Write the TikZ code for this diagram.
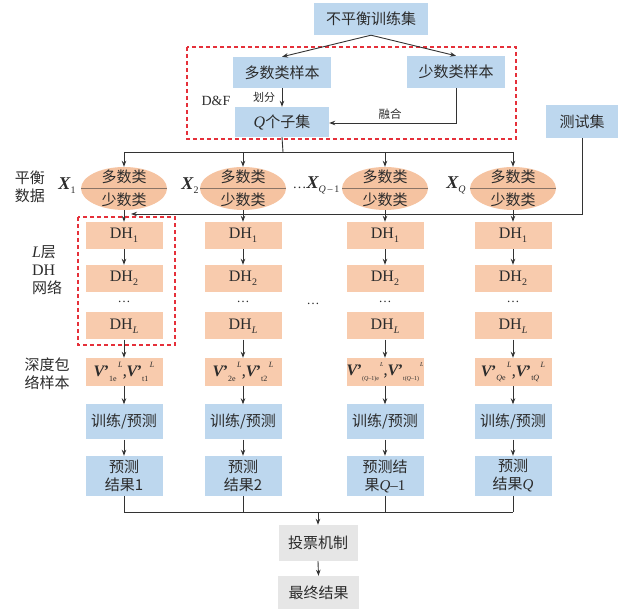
\documentclass[tikz,border=0pt]{standalone}
\usepackage{fontspec}
\setmainfont{Liberation Serif}
\newfontfamily\cjk{Noto Sans CJK SC}
\usetikzlibrary{shapes.geometric,arrows.meta,calc}

\definecolor{boxblue}{HTML}{BDD7EE}
\definecolor{boxorange}{HTML}{F8CBAD}
\definecolor{ellorange}{HTML}{F5C3A1}
\definecolor{boxgray}{HTML}{E6E6E6}
\definecolor{dashred}{HTML}{E5303A}
\definecolor{ink}{HTML}{2B2B2B}
\definecolor{wire}{HTML}{333333}
\definecolor{divline}{HTML}{8A7466}

% vector symbols and layer names
\newcommand{\Xv}[1]{{\rmfamily\fontsize{18}{18}\selectfont\bfseries\itshape X}\raisebox{-0.5ex}{\rmfamily\fontsize{10}{10}\selectfont #1}}
\newcommand{\dhl}[1]{{\rmfamily\fontsize{16}{16}\selectfont DH\raisebox{-0.55ex}{\fontsize{10}{10}\selectfont #1}}}
\newcommand{\Vp}[3]{{\rmfamily\fontsize{16}{16}\selectfont\bfseries\itshape V\kern-0.5pt\upshape'}\raisebox{-0.6ex}{\rmfamily\fontsize{#3}{#3}\selectfont #1}\raisebox{1.1ex}{\rmfamily\fontsize{#3}{#3}\selectfont\itshape\,#2}}

\tikzset{
  base/.style={inner sep=0pt, text=ink, align=center, font=\cjk\fontsize{15}{18}\selectfont},
  bluebox/.style={base, fill=boxblue},
  orangebox/.style={base, fill=boxorange, minimum width=77pt, minimum height=27pt},
  graybox/.style={base, fill=boxgray},
  ell/.style={ellipse, fill=ellorange, minimum width=86pt, minimum height=43pt, inner sep=0pt},
  wireline/.style={draw=wire, line width=0.9pt},
  arr/.style={wireline, -{Stealth[length=6pt,width=4.5pt]}},
  reddash/.style={draw=dashred, line width=1.3pt, dash pattern=on 4pt off 3pt},
  lbl/.style={base, align=left},
}

\begin{document}
\begin{tikzpicture}[x=1pt,y=-1pt]
\useasboundingbox (0,0) rectangle (625,609);

% ---- top: splitting the imbalanced training set ----
\node[bluebox, minimum width=114pt, minimum height=32pt] (train) at (371,19) {不平衡训练集};
\draw[reddash] (187,47) rectangle (516,139);
\node[bluebox, minimum width=98pt, minimum height=31pt] (major) at (282,72.5) {多数类样本};
\node[bluebox, minimum width=98pt, minimum height=32pt] (minor) at (456,72) {少数类样本};
\node[bluebox, minimum width=94pt, minimum height=30pt] (sub) at (282,122) {{\rmfamily\itshape\fontsize{16}{16}\selectfont Q}个子集};
\node[bluebox, minimum width=72pt, minimum height=33pt] (test) at (582,121.5) {测试集};

\node[base, font=\rmfamily\fontsize{14}{14}\selectfont] (df) at (216,101) {D\&F};
\node[base, font=\cjk\fontsize{11}{12}\selectfont] (split) at (264,97) {划分};
\node[base, font=\cjk\fontsize{11.5}{12}\selectfont] (fuse) at (390,114) {融合};

\draw[arr] (train.south) -- (major.north);
\draw[arr] (train.south) -- (minor.north);
\draw[arr] (major.south) -- (sub.north);
\draw[arr] (minor.south) |- (sub.east |- 0,123);

% ---- balanced subsets ----
\node[lbl] (baldata) at (30,187) {平衡\\数据};
\node[base] (x1) at (67,186) {\Xv{1}};
\node[base] (x2) at (190,186) {\Xv{2}};
\node[base] (xq1) at (316,185) {{\rmfamily\fontsize{14}{14}\selectfont…}\Xv{\textit{Q}\,–\,1}};
\node[base] (xq) at (456,185) {\Xv{\textit{Q}}};

\coordinate (bus) at (283,152);
\coordinate (bus2) at (318,512);
\coordinate (tin) at (131,214);

\foreach \c/\x/\vtext/\rtext in {
  1/124/{\Vp{1e}{L}{8},\Vp{t1}{L}{8}}/{预测\\结果1},
  2/243/{\Vp{2e}{L}{8},\Vp{t2}{L}{8}}/{预测\\结果2},
  3/385/{\Vp{(\textit{Q}–1)e}{L}{6},\Vp{t(\textit{Q}–1)}{L}{6}}/{预测结\\果{\rmfamily\itshape Q}{\rmfamily –1}},
  4/513/{\Vp{\textit{Q}e}{L}{8},\Vp{t\textit{Q}}{L}{8}}/{预测\\结果{\rmfamily\itshape Q}}}{
  \node[ell] (e\c) at (\x,188.5) {};
  \draw[draw=divline, line width=0.8pt] (e\c.west) -- (e\c.east);
  \node[base] (e\c-maj) at (\x,177) {多数类};
  \node[base] (e\c-min) at (\x,199.5) {少数类};
  \node[orangebox] (d1\c) at (\x,235.5) {\dhl{1}};
  \node[orangebox] (d2\c) at (\x,278.5) {\dhl{2}};
  \node[base, font=\rmfamily\fontsize{13}{13}\selectfont] (dots\c) at (\x,302) {…};
  \node[orangebox] (dL\c) at (\x,326) {\dhl{\textit{L}}};
  \node[orangebox, minimum height=28pt] (v\c) at (\x,372) {\vtext};
  \node[bluebox, minimum width=77pt, minimum height=35pt] (tp\c) at (\x,422) {训练/预测};
  \node[bluebox, minimum width=77pt, minimum height=40pt] (r\c) at (\x,476) {\rtext};
  \draw[arr] (e\c.north |- bus) -- (e\c.north);
  \draw[arr] (e\c.south) -- (d1\c.north);
  \draw[arr] (d1\c.south) -- (d2\c.north);
  \draw[arr] (dL\c.south) -- (v\c.north);
  \draw[arr] (v\c.south) -- (tp\c.north);
  \draw[arr] (tp\c.south) -- (r\c.north);
  \draw[wireline] (r\c.south) -- (r\c.south |- bus2);
}

\draw[wireline] (sub.south) -- (bus);
\draw[wireline] (e1.north |- bus) -- (e4.north |- bus);
\draw[arr] (test.south) |- (tin);

\node[base, font=\rmfamily\fontsize{13}{13}\selectfont] (middots) at (313,304) {…};

% DH network of the first branch
\draw[reddash] (78,217) rectangle (175,345);

\node[lbl] (dhnet) at (47,270) {{\rmfamily\itshape\fontsize{16}{16}\selectfont L}层\\{\rmfamily\fontsize{16}{16}\selectfont DH}\\网络};
\node[lbl] (envs) at (47,374) {深度包\\络样本};

% ---- voting ----
\draw[wireline] (r1.south |- bus2) -- (r4.south |- bus2);
\node[graybox, minimum width=79pt, minimum height=36pt] (vote) at (318,543) {投票机制};
\node[graybox, minimum width=81pt, minimum height=33pt] (final) at (318.5,592.5) {最终结果};
\draw[arr] (bus2) -- (vote.north);
\draw[arr] (vote.south) -- (final.north);
\end{tikzpicture}
\end{document}
